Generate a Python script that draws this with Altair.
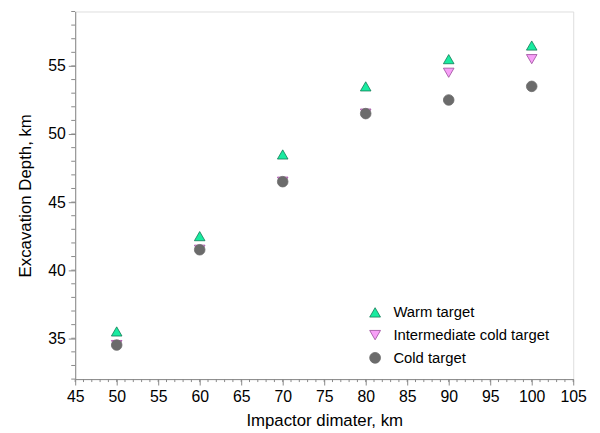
import altair as alt
import pandas as pd

diam = [50, 60, 70, 80, 90, 100]
warm = [35.5, 42.5, 48.5, 53.5, 55.5, 56.5]
inter = [34.5, 41.5, 46.5, 51.5, 54.5, 55.5]
cold = [34.5, 41.5, 46.5, 51.5, 52.5, 53.5]

series_names = ["Warm target", "Intermediate cold target", "Cold target"]
fills = ["#19eba0", "#f7a0f7", "#6b6b6b"]
strokes = ["#127a55", "#9a4a9a", "#6b6b6b"]
shapes = ["triangle-up", "triangle-down", "circle"]

x_major = list(range(45, 106, 5))
x_minor = list(range(45, 106, 1))
y_major = [35, 40, 45, 50, 55]
y_minor = list(range(32, 60, 1))

rows = []
# draw order: intermediate, cold, warm
for name, vals in [(series_names[1], inter), (series_names[2], cold), (series_names[0], warm)]:
    for d, v in zip(diam, vals):
        rows.append({"x": d, "y": v, "series": name})
df = pd.DataFrame(rows)

W, H = 504, 372
FONT = "Liberation Sans"

xscale = alt.Scale(domain=[45, 105], nice=False, zero=False)
yscale = alt.Scale(domain=[32, 59], nice=False, zero=False)
xaxis = alt.Axis(values=x_major, title="Impactor dimater, km", grid=False,
                 tickSize=6, tickColor="#888888", domainColor="#888888",
                 labelFontSize=16, titleFontSize=17, labelFont=FONT, titleFont=FONT,
                 labelColor="black", titleColor="black", titleFontWeight="normal",
                 labelPadding=4, titlePadding=8, labelFlush=False)
yaxis = alt.Axis(values=y_major, title="Excavation Depth, km", grid=False,
                 tickSize=7, tickColor="#888888", domainColor="#888888",
                 labelFontSize=16, titleFontSize=17, labelFont=FONT, titleFont=FONT,
                 labelColor="black", titleColor="black", titleFontWeight="normal",
                 labelPadding=3, titlePadding=13)

points = alt.Chart(df).mark_point(filled=True, size=115, strokeWidth=0.8, opacity=1).encode(
    x=alt.X("x:Q", scale=xscale, axis=xaxis),
    y=alt.Y("y:Q", scale=yscale, axis=yaxis),
    fill=alt.Fill("series:N", scale=alt.Scale(domain=series_names, range=fills),
                  legend=alt.Legend(title=None, orient="none", legendX=296, legendY=297,
                                    labelFontSize=15, labelFont=FONT, labelColor="black",
                                    symbolSize=120, rowPadding=7, labelOffset=11,
                                    symbolStrokeWidth=0.8)),
    shape=alt.Shape("series:N", scale=alt.Scale(domain=series_names, range=shapes)),
    stroke=alt.Stroke("series:N", scale=alt.Scale(domain=series_names, range=strokes), legend=None),
    order=alt.Order("idx:Q"),
).transform_window(idx="row_number()")

xminor_df = pd.DataFrame({"x": x_minor})
yminor_df = pd.DataFrame({"y": y_minor})

xminor = alt.Chart(xminor_df).mark_rule(color="#888888", strokeWidth=1).encode(
    x=alt.X("x:Q", scale=xscale, axis=xaxis),
    y=alt.value(H),
    y2=alt.value(H + 3),
)
yminor = alt.Chart(yminor_df).mark_rule(color="#888888", strokeWidth=1).encode(
    y=alt.Y("y:Q", scale=yscale, axis=yaxis),
    x=alt.value(0),
    x2=alt.value(-4),
)

chart = alt.layer(xminor, yminor, points).properties(
    width=W, height=H, padding={"top": 0, "left": 9, "right": 5, "bottom": 0}
).configure_view(stroke="#999999", strokeWidth=1).configure(background="white")

chart.save("out.html", embed_options={"renderer": "svg", "actions": False})
